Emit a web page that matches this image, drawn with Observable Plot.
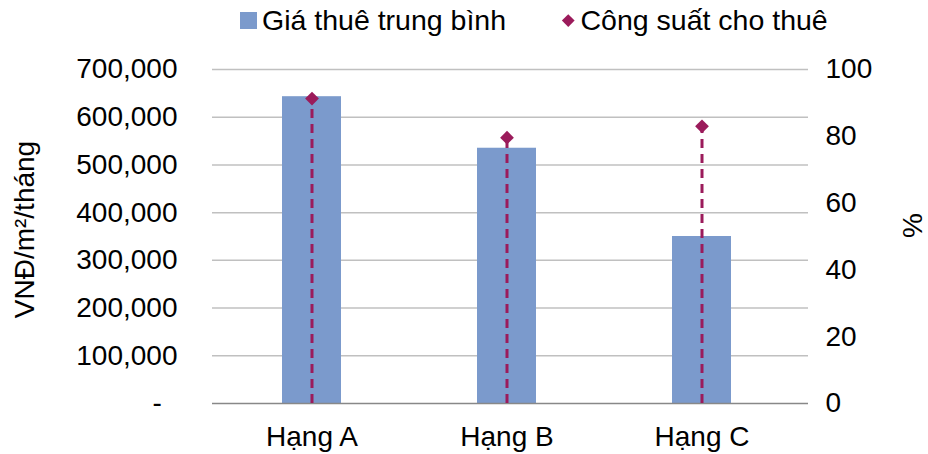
<!DOCTYPE html>
<html>
<head>
<meta charset="utf-8">
<script src="https://cdn.jsdelivr.net/npm/d3@7"></script>
<script src="https://cdn.jsdelivr.net/npm/@observablehq/plot@0.6"></script>
<style>
  html, body { margin: 0; padding: 0; background: #fff; }
  body { width: 928px; height: 454px; overflow: hidden; font-family: "Liberation Sans", Arial, sans-serif; }
  #legend { height: 40px; position: relative; font-size: 28.5px; color: #000; }
  #legend .item { position: absolute; top: 4px; display: flex; align-items: center; white-space: nowrap; }
  #legend .sw { width: 17px; height: 17px; background: #7b9acc; margin-right: 5px; }
  #legend .dm { width: 8.5px; height: 8.5px; background: #9b1b5b; transform: rotate(45deg); margin: 0 8px 0 2px; }
</style>
</head>
<body>
<div id="legend">
  <div class="item" style="left:240px"><span class="sw"></span><span>Giá thuê trung bình</span></div>
  <div class="item" style="left:562px"><span class="dm"></span><span>Công suất cho thuê</span></div>
</div>
<div id="chart"></div>
<script>
const categories = ["Hạng A", "Hạng B", "Hạng C"];
const rent = [643000, 535000, 350000];        // VNĐ/m²/tháng
const occupancy = [91.3, 79.6, 83.0];         // %
const leftTicks = [0, 100000, 200000, 300000, 400000, 500000, 600000, 700000];
const rightTicks = [0, 20, 40, 60, 80, 100];
const leftMax = 700000, rightMax = 100;
const k = leftMax / rightMax;

const data = categories.map((c, i) => ({cat: c, rent: rent[i], occ: occupancy[i], occY: occupancy[i] * k}));

const fmt = d3.format(",");
const chart = Plot.plot({
  width: 928,
  height: 414,
  marginTop: 29,
  marginBottom: 51,
  marginLeft: 212,
  marginRight: 120,
  style: {fontFamily: "Liberation Sans, Arial, sans-serif", fontSize: "28px", color: "#000", background: "#fff"},
  x: {domain: categories, range: [212, 801], paddingInner: 0.7, paddingOuter: 0.36, label: null},
  y: {domain: [0, leftMax], label: null},
  marks: [
    Plot.ruleY(leftTicks.slice(1), {stroke: "#c0c0c0", strokeWidth: 1.5}),
    Plot.barY(data, {x: "cat", y: "rent", fill: "#7b9acc"}),
    Plot.ruleY([0], {stroke: "#888", strokeWidth: 1.5}),
    Plot.ruleX(data, {x: "cat", y1: 0, y2: "occY", stroke: "#9b1b5b", strokeWidth: 3, strokeDasharray: "9,6"}),
    Plot.dot(data, {x: "cat", y: "occY", symbol: "diamond2", r: 6.2, fill: "#9b1b5b", stroke: "none"}),
    Plot.axisX({tickSize: 0, tickPadding: 23, fontSize: 28}),
    Plot.axisY({anchor: "left", ticks: leftTicks, tickSize: 0, tickPadding: 35, fontSize: 28,
      tickFormat: d => d === 0 ? "-\u00a0\u00a0" : fmt(d), label: null}),
    Plot.axisY({anchor: "right", ticks: rightTicks.map(v => v * k), tickSize: 0, tickPadding: 17, fontSize: 28,
      tickFormat: d => String(Math.round(d / k)), label: null}),
    Plot.text(["VNĐ/m²/tháng"], {frameAnchor: "left", dx: -187, dy: -7, rotate: -90, fontSize: 28, textAnchor: "middle"}),
    Plot.text(["%"], {frameAnchor: "right", dx: 105, dy: -11, rotate: -90, fontSize: 28, textAnchor: "middle"})
  ]
});
document.getElementById("chart").appendChild(chart);
</script>
</body>
</html>
